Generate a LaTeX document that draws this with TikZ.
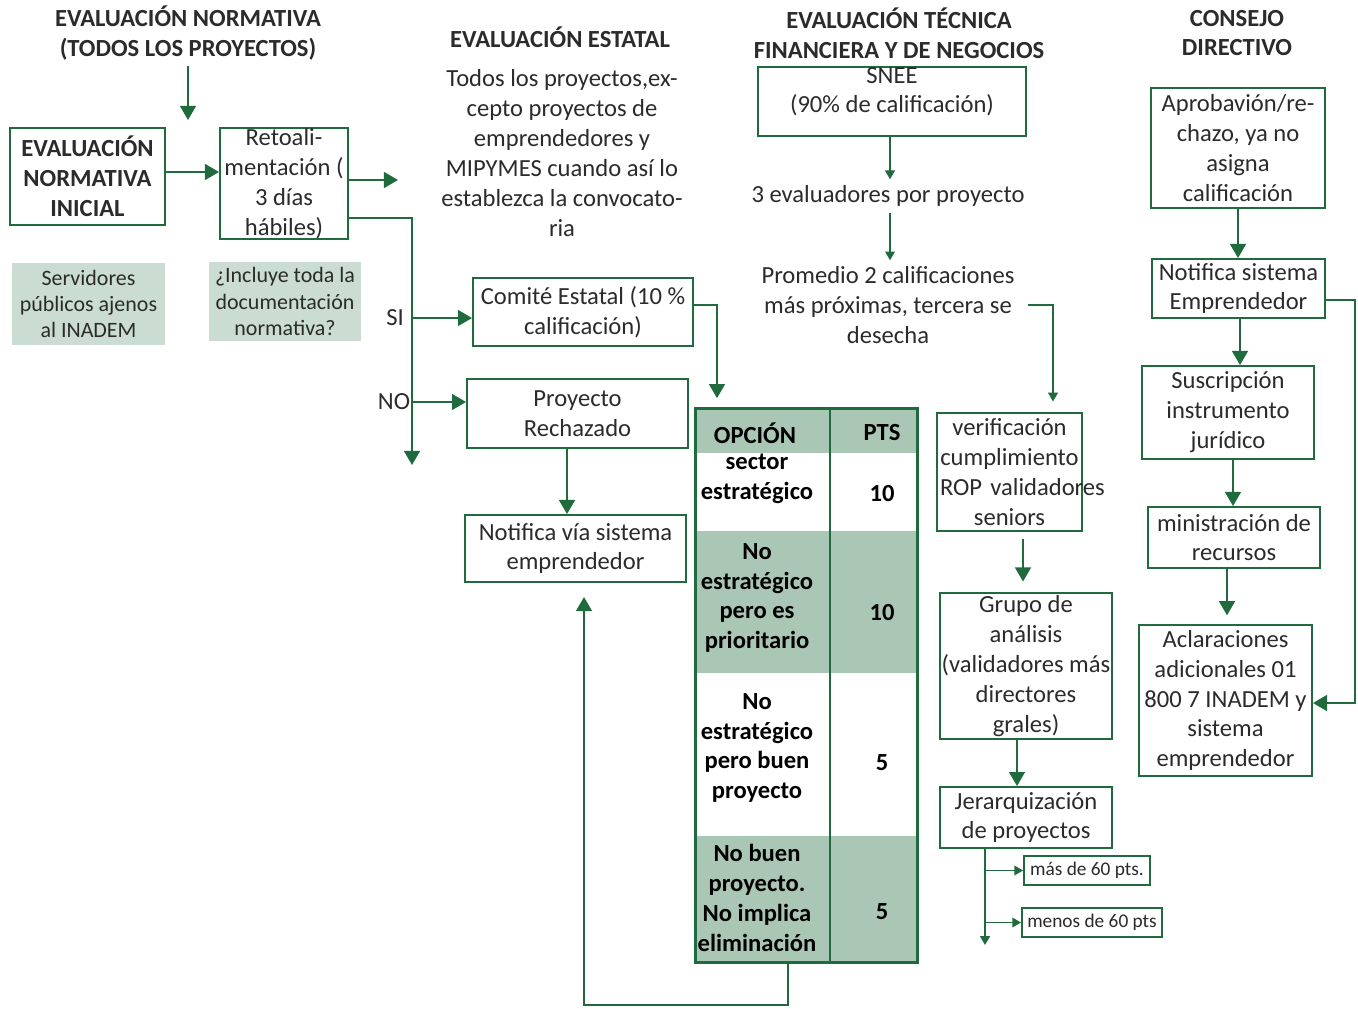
\documentclass[tikz,border=0pt]{standalone}
\usepackage{fontspec}
\setmainfont{Carlito}
\usetikzlibrary{arrows.meta}
\definecolor{verde}{HTML}{1F6B3E}
\definecolor{tabla}{HTML}{A9C7B4}
\definecolor{gris}{HTML}{CBDDD2}
\definecolor{texto}{HTML}{2B2B2B}
\begin{document}
\begin{tikzpicture}[x=0.02cm,y=-0.02cm,
  every node/.style={font=\fontsize{14}{17}\selectfont,text=texto,align=center},
  caja/.style={draw=verde,line width=1.1pt,inner sep=0pt},
  nota/.style={fill=gris,inner sep=0pt,font=\fontsize{12.5}{15}\selectfont},
  titulo/.style={font=\bfseries\fontsize{14}{17}\selectfont},
  celda/.style={font=\bfseries\fontsize{14}{17}\selectfont,text=black},
  chica/.style={caja,font=\fontsize{11}{13}\selectfont},
  flecha/.style={draw=verde,line width=1.1pt,-{Triangle[width=9pt,length=8pt]}},
  flechita/.style={draw=verde,line width=1pt,-{Triangle[width=5.5pt,length=5pt]}},
  linea/.style={draw=verde,line width=1.1pt}
]
\fill[white] (0,0) rectangle (1358,1008);
\useasboundingbox (0,0) rectangle (1358,1008);

% titulos
\node[titulo] (t1) at (188,33) {EVALUACIÓN NORMATIVA\\(TODOS LOS PROYECTOS)};
\node[titulo] (t2) at (560,37) {EVALUACIÓN ESTATAL};
\node[titulo] (t3) at (899,33) {EVALUACIÓN TÉCNICA\\FINANCIERA Y DE NEGOCIOS};
\node[titulo] (t4) at (1237,33) {CONSEJO\\DIRECTIVO};

% normativa
\node[caja,font=\bfseries\fontsize{14}{17}\selectfont,minimum width=3.1cm,minimum height=1.94cm] (ini) at (87.5,176.5) {EVALUACIÓN\\NORMATIVA\\INICIAL};
\node[caja,minimum width=2.56cm,minimum height=2.22cm] (retro) at (284,183.5) {Retoali-\\mentación (\\3 días\\hábiles)};
\node[nota,minimum width=3.06cm,minimum height=1.64cm] (serv) at (88.5,304) {Servidores\\públicos ajenos\\al INADEM};
\node[nota,minimum width=3.04cm,minimum height=1.58cm] (incl) at (285,301.5) {¿Incluye toda la\\documentación\\normativa?};
\coordinate (t1fin) at (188,120);
\coordinate (retrofin) at (398,180);
\coordinate (decfin) at (412,465);
\node[inner sep=0pt] (si) at (395,318) {SI};
\node[inner sep=0pt] (no) at (394,402) {NO};

% estatal
\node (todos) at (562,153) {Todos los proyectos,ex-\\cepto proyectos de\\emprendedores y\\MIPYMES cuando así lo\\establezca la convocato-\\ria};
\node[caja,minimum width=4.4cm,minimum height=1.36cm] (comite) at (583,312) {Comité Estatal (10 \%\\calificación)};
\node[caja,minimum width=4.42cm,minimum height=1.38cm] (rech) at (577.5,413.5) {Proyecto\\Rechazado};
\node[caja,minimum width=4.42cm,minimum height=1.34cm] (notif) at (575.5,548.5) {Notifica vía sistema\\emprendedor};

% tabla de puntos
\node[minimum width=4.42cm,minimum height=11.06cm,inner sep=0pt] (tab) at (806.5,685.5) {};
\fill[tabla] (tab.north west) rectangle (917,453);
\fill[tabla] (696,531) rectangle (917,673);
\fill[tabla] (696,836) rectangle (tab.south east);
\draw[verde,line width=1.6pt] (tab.north west) rectangle (tab.south east);
\draw[verde,line width=1.6pt] (830,409) -- (830,962);
\node[celda] (opc) at (755,433) {OPCIÓN};
\node[celda] (pts) at (882,433) {PTS};
\node[celda] (o1) at (757,479) {sector\\estratégico};
\node[celda] (p1) at (882,494) {10};
\node[celda] (o2) at (757,598) {No\\estratégico\\pero es\\prioritario};
\node[celda] (p2) at (882,613) {10};
\node[celda] (o3) at (757,748) {No\\estratégico\\pero buen\\proyecto};
\node[celda] (p3) at (882,763) {5};
\node[celda] (o4) at (757,898) {No buen\\proyecto.\\No implica\\eliminación};
\node[celda] (p4) at (882,912) {5};

% tecnica
\node[caja,minimum width=5.36cm,minimum height=1.38cm,text height=25pt,text depth=12pt] (snee) at (892,101.5) {SNEE\\(90\% de calificación)};
\node (tres) at (888,196) {3 evaluadores por proyecto};
\node (prom) at (888,305) {Promedio 2 calificaciones\\más próximas, tercera se\\desecha};
\node[caja,minimum width=2.9cm,minimum height=2.36cm,text width=2.78cm] (verif) at (1009.5,472) {verificación\\cumplimiento\\\mbox{ROP validadores}\\seniors};
\node[caja,minimum width=3.44cm,minimum height=2.92cm] (grupo) at (1026,666) {Grupo de\\análisis\\(validadores más\\directores\\grales)};
\node[caja,minimum width=3.44cm,minimum height=1.22cm] (jer) at (1026,817.5) {Jerarquización\\de proyectos};
\node[chica,minimum width=2.52cm,minimum height=0.58cm] (mas) at (1087,870.5) {más de 60 pts.};
\node[chica,minimum width=2.8cm,minimum height=0.58cm] (menos) at (1092,922.5) {menos de 60 pts};
\coordinate (jerfin) at (985,945);

% consejo
\node[caja,minimum width=3.48cm,minimum height=2.4cm] (apro) at (1238,148) {Aprobavión/re-\\chazo, ya no\\asigna\\calificación};
\node[caja,minimum width=3.46cm,minimum height=1.18cm] (notsis) at (1238.5,288.5) {Notifica sistema\\Emprendedor};
\node[caja,minimum width=3.44cm,minimum height=1.86cm] (susc) at (1228,412.5) {Suscripción\\instrumento\\jurídico};
\node[caja,minimum width=3.44cm,minimum height=1.22cm] (mini) at (1234,537.5) {ministración de\\recursos};
\node[caja,minimum width=3.46cm,minimum height=3.02cm] (acla) at (1225.5,700.5) {Aclaraciones\\adicionales 01\\800 7 INADEM y\\sistema\\emprendedor};

% conectores
\draw[flecha] (t1.south) -- (t1fin);
\draw[flecha] (ini.east |- 0,172) -- (retro.west |- 0,172);
\draw[flecha] (retro.east |- 0,180) -- (retrofin);
\draw[flecha] (retro.east |- 0,218) -| (decfin);
\draw[flecha] (decfin |- si) -- (comite.west |- si);
\draw[flecha] (decfin |- no) -- (rech.west |- no);
\draw[flecha] (rech.south -| 567,0) -- (notif.north -| 567,0);
\draw[flecha,shorten >=6pt] (comite.east |- 0,305) -| (tab.north -| 717,0);
\draw[flecha,shorten >=8pt] (tab.south -| 788,0) -- (788,1005) -| (notif.south -| 584,0);

\draw[flechita] (snee.south -| 890,0) -- (tres.north -| 890,0);
\draw[flechita] (tres.south -| 890,0) -- (prom.north -| 890,0);
\draw[flechita,shorten <=4pt,shorten >=6pt] (prom.east |- 0,305) -| (verif.north -| 1053,0);
\draw[flecha,shorten <=4pt,shorten >=6pt] (verif.south -| 1023,0) -- (grupo.north -| 1023,0);
\draw[flecha] (grupo.south -| 1017,0) -- (jer.north -| 1017,0);
\draw[flechita] (jer.south -| jerfin) -- (jerfin);
\draw[flechita] (jerfin |- mas) -- (mas.west);
\draw[flechita] (jerfin |- menos) -- (menos.west);

\draw[flecha] (apro.south) -- (notsis.north -| apro.south);
\draw[flecha] (notsis.south -| 1240,0) -- (susc.north -| 1240,0);
\draw[flecha] (susc.south -| 1233,0) -- (mini.north -| 1233,0);
\draw[flecha,shorten >=5pt] (mini.south -| 1227,0) -- (acla.north -| 1227,0);
\draw[flecha] (notsis.east |- 0,300) -| (1355,703) -- (acla.east |- 0,703);
\end{tikzpicture}
\end{document}
